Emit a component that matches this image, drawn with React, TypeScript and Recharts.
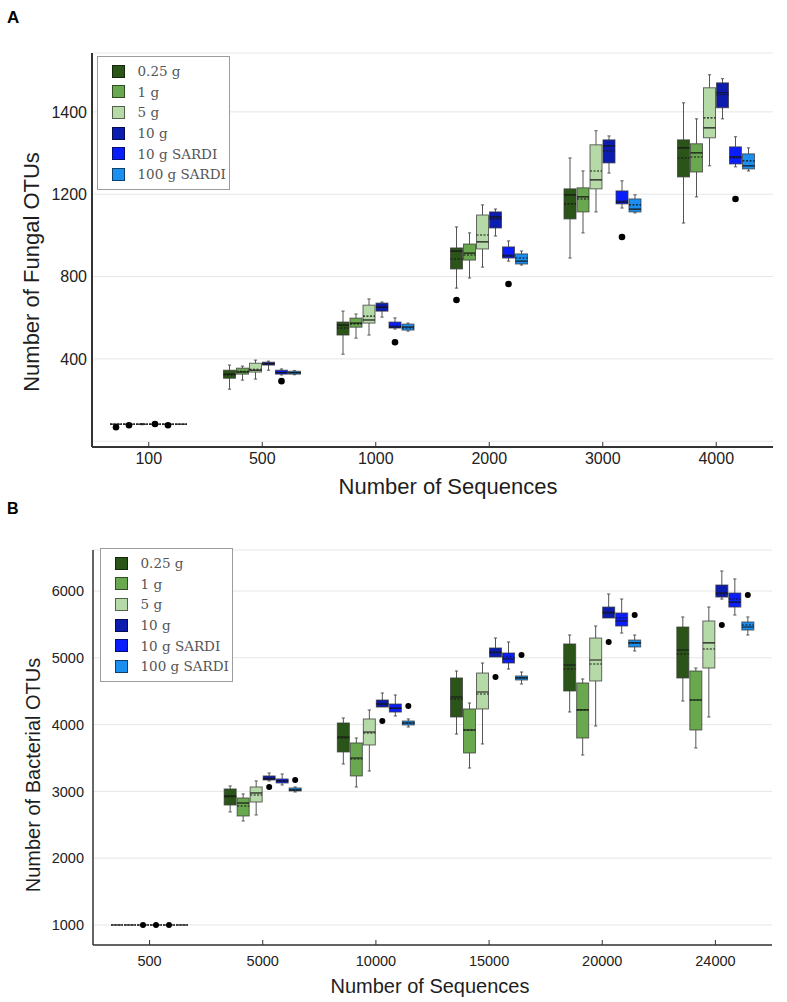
import { Bar, CartesianGrid, ComposedChart, Legend, XAxis, YAxis } from "recharts";

// [whisker low, Q1, median, mean, Q3, whisker high]
type Stat = [number, number, number, number, number, number];

const groups = ["0.25 g", "1 g", "5 g", "10 g", "10 g SARDI", "100 g SARDI"];
const groupColors = ["#2b5518", "#69a84e", "#b6d9a8", "#0b1cae", "#0a1efc", "#1a8ff0"];

// ---- panel A: fungal OTUs ----
const fungalCategories = ["100", "500", "1000", "2000", "3000", "4000"];
const fungalTicks = [0, 400, 800, 1200, 1600];
const fungalTickLabels = ["", "400", "800", "1200", "1400"];

const fungal025: Stat[] = [
    [83, 83, 83, 83, 83, 83],
    [253, 306, 326, 322, 345, 370],
    [423, 516, 564, 550, 579, 632],
    [744, 837, 924, 885, 939, 1041],
    [890, 1080, 1197, 1153, 1226, 1376],
    [1060, 1284, 1425, 1376, 1464, 1644],
];
const fungal1: Stat[] = [
    [83, 83, 83, 83, 83, 83],
    [297, 326, 336, 340, 355, 365],
    [501, 554, 574, 570, 598, 618],
    [793, 880, 914, 905, 958, 1012],
    [1012, 1114, 1187, 1177, 1231, 1313],
    [1187, 1308, 1401, 1381, 1445, 1566],
];
const fungal5: Stat[] = [
    [80, 83, 83, 83, 83, 86],
    [302, 336, 345, 350, 379, 394],
    [516, 574, 589, 608, 661, 691],
    [846, 934, 968, 1002, 1099, 1148],
    [1114, 1226, 1270, 1313, 1440, 1508],
    [1338, 1474, 1522, 1571, 1717, 1780],
];
const fungal10: Stat[] = [
    [83, 83, 83, 83, 83, 83],
    [345, 370, 377, 377, 384, 389],
    [603, 632, 652, 650, 671, 676],
    [997, 1036, 1090, 1080, 1114, 1128],
    [1303, 1352, 1435, 1410, 1464, 1483],
    [1566, 1620, 1693, 1683, 1741, 1761],
];
const fungal10Sardi: Stat[] = [
    [83, 83, 83, 83, 83, 83],
    [322, 326, 333, 335, 345, 351],
    [545, 550, 555, 560, 579, 599],
    [875, 890, 900, 905, 944, 973],
    [1133, 1153, 1162, 1167, 1216, 1265],
    [1333, 1347, 1381, 1376, 1430, 1479],
];
const fungal100Sardi: Stat[] = [
    [83, 83, 83, 83, 83, 83],
    [323, 326, 333, 333, 340, 343],
    [535, 540, 555, 550, 569, 574],
    [856, 861, 875, 890, 910, 924],
    [1109, 1114, 1128, 1148, 1177, 1197],
    [1313, 1323, 1338, 1362, 1396, 1425],
];

const fungalOut025 = [68, null, null, 686, null, null];
const fungalOut1 = [78, null, null, null, null, null];
const fungalOut5 = [null, null, null, null, null, null];
const fungalOut10 = [84, null, null, null, null, null];
const fungalOut10Sardi = [78, 292, 481, 764, 992, 1177];
const fungalOut100Sardi = [null, null, null, null, null, null];

// ---- panel B: bacterial OTUs ----
const bacterialCategories = ["500", "5000", "10000", "15000", "20000", "24000"];
const bacterialTicks = [1000, 2000, 3000, 4000, 5000, 6000];
const bacterialTickLabels = ["1000", "2000", "3000", "4000", "5000", "6000"];

const bact025: Stat[] = [
    [1000, 1000, 1000, 1000, 1000, 1000],
    [2692, 2796, 2931, 2916, 3036, 3081],
    [3410, 3590, 3814, 3799, 4024, 4099],
    [3859, 4114, 4413, 4383, 4698, 4802],
    [4189, 4503, 4892, 4832, 5207, 5341],
    [4353, 4698, 5117, 5057, 5461, 5611],
];
const bact1: Stat[] = [
    [1000, 1000, 1000, 1000, 1000, 1000],
    [2557, 2632, 2826, 2781, 2901, 2961],
    [3066, 3231, 3500, 3485, 3725, 3799],
    [3350, 3575, 3919, 3919, 4234, 4323],
    [3545, 3799, 4219, 4219, 4623, 4683],
    [3650, 3919, 4368, 4368, 4802, 4847],
];
const bact5: Stat[] = [
    [1000, 1000, 1000, 1000, 1000, 1000],
    [2647, 2841, 2976, 2946, 3066, 3156],
    [3305, 3695, 3889, 3874, 4084, 4219],
    [3710, 4234, 4488, 4458, 4772, 4922],
    [3979, 4653, 4967, 4907, 5296, 5476],
    [4114, 4847, 5222, 5132, 5551, 5760],
];
const bact10: Stat[] = [
    [1000, 1000, 1000, 1000, 1000, 1000],
    [3156, 3171, 3186, 3196, 3231, 3275],
    [4263, 4263, 4308, 4308, 4368, 4473],
    [5012, 5012, 5087, 5072, 5147, 5296],
    [5596, 5596, 5671, 5686, 5760, 5955],
    [5880, 5910, 5970, 5955, 6090, 6299],
];
const bact10Sardi: Stat[] = [
    [1000, 1000, 1000, 1000, 1000, 1000],
    [3096, 3126, 3156, 3156, 3186, 3260],
    [4129, 4188, 4248, 4240, 4308, 4443],
    [4832, 4922, 4982, 5012, 5072, 5237],
    [5371, 5476, 5551, 5596, 5671, 5880],
    [5641, 5760, 5835, 5880, 5970, 6180],
];
const bact100Sardi: Stat[] = [
    [1000, 1000, 1000, 1000, 1000, 1000],
    [2991, 3006, 3021, 3021, 3051, 3066],
    [3964, 3994, 4024, 4024, 4054, 4084],
    [4608, 4668, 4698, 4698, 4728, 4787],
    [5102, 5162, 5222, 5222, 5266, 5341],
    [5341, 5416, 5461, 5491, 5536, 5611],
];

const bactOut025 = [null, null, null, null, null, null];
const bactOut1 = [null, null, null, null, null, null];
const bactOut5 = [1000, null, null, null, null, null];
const bactOut10 = [1000, 3066, 4054, 4713, 5237, 5491];
const bactOut10Sardi = [1000, null, null, null, null, null];
const bactOut100Sardi = [null, 3171, 4278, 5042, 5641, 5940];

const FONT = "'Liberation Sans', Arial, sans-serif";

type Row = Record<string, any>;

function buildRows(categories: string[], series: Stat[][], outliers: (number | null)[][]): Row[] {
    return categories.map((label, c) => {
        const row: Row = { label };
        series.forEach((s, i) => {
            const st = s[c];
            const out = outliers[i][c];
            const lo = out == null ? st[0] : Math.min(st[0], out);
            const hi = out == null ? st[5] : Math.max(st[5], out);
            row[`r${i}`] = [lo, hi];
            row[`st${i}`] = st;
            row[`o${i}`] = out;
        });
        return row;
    });
}

const fungalRows = buildRows(
    fungalCategories,
    [fungal025, fungal1, fungal5, fungal10, fungal10Sardi, fungal100Sardi],
    [fungalOut025, fungalOut1, fungalOut5, fungalOut10, fungalOut10Sardi, fungalOut100Sardi]
);
const bacterialRows = buildRows(
    bacterialCategories,
    [bact025, bact1, bact5, bact10, bact10Sardi, bact100Sardi],
    [bactOut025, bactOut1, bactOut5, bactOut10, bactOut10Sardi, bactOut100Sardi]
);

function BoxShape(props: any) {
    const { x, y, width, height, payload, idx, color, dotR } = props;
    if (!payload) return null;
    const [lo, hi] = payload[`r${idx}`];
    const [wmin, q1, med, mean, q3, wmax] = payload[`st${idx}`] as Stat;
    const out = payload[`o${idx}`];
    const top = Math.min(y, y + height);
    const h = Math.abs(height);
    const py = (v: number) => (hi === lo ? top : top + (h * (hi - v)) / (hi - lo));
    const cx = x + width / 2;
    const cap = 1.6;
    const boxTop = py(q3);
    const boxH = py(q1) - boxTop;
    return (
        <g>
            {wmax > q3 && (
                <>
                    <line x1={cx} x2={cx} y1={py(wmax)} y2={boxTop} stroke="#555" strokeWidth={1} />
                    <line x1={cx - cap} x2={cx + cap} y1={py(wmax)} y2={py(wmax)} stroke="#555" strokeWidth={1} />
                </>
            )}
            {wmin < q1 && (
                <>
                    <line x1={cx} x2={cx} y1={py(q1)} y2={py(wmin)} stroke="#555" strokeWidth={1} />
                    <line x1={cx - cap} x2={cx + cap} y1={py(wmin)} y2={py(wmin)} stroke="#555" strokeWidth={1} />
                </>
            )}
            {boxH > 0.5 && (
                <rect
                    x={x}
                    y={boxTop}
                    width={width}
                    height={boxH}
                    fill={color}
                    stroke="#3a3a3a"
                    strokeOpacity={0.75}
                    strokeWidth={1}
                />
            )}
            <line x1={x} x2={x + width} y1={py(med)} y2={py(med)} stroke="#151515" strokeWidth={1.2} />
            <line
                x1={x}
                x2={x + width}
                y1={py(mean)}
                y2={py(mean)}
                stroke="#151515"
                strokeWidth={1.1}
                strokeDasharray="2 1.5"
            />
            {out != null && <circle cx={cx} cy={py(out)} r={dotR} fill="#000" />}
        </g>
    );
}

function YTitle({ px, py, size, text }: { px: number; py: number; size: number; text: string }) {
    return (
        <text
            x={px}
            y={py}
            transform={`rotate(-90 ${px} ${py})`}
            textAnchor="middle"
            dominantBaseline="central"
            fontSize={size}
            fill="#1e1e1e"
            fontFamily={FONT}
        >
            {text}
        </text>
    );
}

function XTitle({ px, py, size, text }: { px: number; py: number; size: number; text: string }) {
    return (
        <text x={px} y={py} textAnchor="middle" fontSize={size} fill="#1e1e1e" fontFamily={FONT}>
            {text}
        </text>
    );
}

function XTick(props: any) {
    const { x, y, payload, size, gap } = props;
    return (
        <g>
            <line x1={x} x2={x} y1={y} y2={y - 5} stroke="#333" strokeWidth={1} />
            <text x={x} y={y + gap + size * 0.72} textAnchor="middle" fontSize={size} fill="#222" fontFamily={FONT}>
                {payload.value}
            </text>
        </g>
    );
}

function BoxLegend() {
    return (
        <div
            style={{
                boxSizing: "border-box",
                width: 133,
                border: "1.5px solid #9c9c9c",
                background: "#fff",
                padding: "4px 0 4px 13.5px",
                fontFamily: "'DejaVu Serif', serif",
                fontSize: 13.5,
                color: "#555",
            }}
        >
            {groups.map((g, i) => (
                <div key={g} style={{ display: "flex", alignItems: "center", height: 20.6 }}>
                    <span
                        style={{
                            boxSizing: "border-box",
                            width: 13,
                            height: 13,
                            background: groupColors[i],
                            border: "1px solid rgba(0,0,0,0.55)",
                            marginRight: 13,
                            flex: "none",
                        }}
                    />
                    <span style={{ whiteSpace: "nowrap" }}>{g}</span>
                </div>
            ))}
        </div>
    );
}

type PanelProps = {
    data: Row[];
    height: number;
    margin: { top: number; right: number; bottom: number; left: number };
    domain: [number, number];
    ticks: number[];
    tickLabels: string[];
    tickSize: number;
    yTickMargin: number;
    xGap: number;
    axisWidth: number;
    legendPos: { left: number; top: number };
    yTitle: { px: number; py: number; size: number; text: string };
    xTitle: { px: number; py: number; size: number; text: string };
    dotR: number;
};

function Panel(p: PanelProps) {
    return (
        <ComposedChart
            width={787}
            height={p.height}
            data={p.data}
            margin={p.margin}
            barCategoryGap={18}
            barGap={1}
        >
            <CartesianGrid vertical={false} stroke="#e6e6e6" strokeWidth={1} />
            <XAxis
                dataKey="label"
                height={40}
                axisLine={{ stroke: "#333", strokeWidth: p.axisWidth }}
                tickLine={false}
                tickSize={0}
                tickMargin={0}
                interval={0}
                tick={<XTick size={p.tickSize} gap={p.xGap} />}
                label={<XTitle {...p.xTitle} />}
            />
            <YAxis
                type="number"
                width={60}
                domain={p.domain}
                allowDataOverflow
                ticks={p.ticks}
                tickFormatter={(v: number) => p.tickLabels[p.ticks.indexOf(v)] ?? ""}
                axisLine={{ stroke: "#333", strokeWidth: p.axisWidth }}
                tickLine={false}
                tickSize={0}
                tickMargin={p.yTickMargin}
                tick={{ fill: "#222", fontSize: p.tickSize, fontFamily: FONT }}
                label={<YTitle {...p.yTitle} />}
            />
            <Legend
                layout="vertical"
                align="center"
                verticalAlign="middle"
                wrapperStyle={{ left: p.legendPos.left, top: p.legendPos.top, width: 133, height: "auto" }}
                content={() => <BoxLegend />}
            />
            {groups.map((g, i) => (
                <Bar
                    key={g}
                    name={g}
                    dataKey={`r${i}`}
                    fill={groupColors[i]}
                    isAnimationActive={false}
                    shape={(sp: any) => <BoxShape {...sp} idx={i} color={groupColors[i]} dotR={p.dotR} />}
                />
            ))}
        </ComposedChart>
    );
}

export default function App() {
    return (
        <div style={{ position: "absolute", left: 0, top: 0, width: 787, height: 1002, background: "#fff" }}>
            <div style={{ position: "absolute", left: 0, top: 0 }}>
                <Panel
                    data={fungalRows}
                    height={500}
                    margin={{ top: 53, right: 14, bottom: 13, left: 32 }}
                    domain={[-28, 1886]}
                    ticks={fungalTicks}
                    tickLabels={fungalTickLabels}
                    tickSize={16}
                    yTickMargin={5}
                    xGap={5}
                    axisWidth={2}
                    legendPos={{ left: 97, top: 56 }}
                    yTitle={{ px: 31, py: 272, size: 22, text: "Number of Fungal OTUs" }}
                    xTitle={{ px: 448, py: 494, size: 22, text: "Number of Sequences" }}
                    dotR={3.3}
                />
            </div>
            <div style={{ position: "absolute", left: 0, top: 500 }}>
                <Panel
                    data={bacterialRows}
                    height={502}
                    margin={{ top: 50, right: 15, bottom: 17, left: 33 }}
                    domain={[700, 6614]}
                    ticks={bacterialTicks}
                    tickLabels={bacterialTickLabels}
                    tickSize={14.5}
                    yTickMargin={9}
                    xGap={11}
                    axisWidth={1.5}
                    legendPos={{ left: 100, top: 48 }}
                    yTitle={{ px: 33, py: 275, size: 20, text: "Number of Bacterial OTUs" }}
                    xTitle={{ px: 430, py: 493, size: 20, text: "Number of Sequences" }}
                    dotR={3}
                />
            </div>
            <div
                style={{
                    position: "absolute",
                    left: 7,
                    top: 8,
                    fontFamily: FONT,
                    fontWeight: "bold",
                    fontSize: 17,
                    lineHeight: "20px",
                }}
            >
                A
            </div>
            <div
                style={{
                    position: "absolute",
                    left: 7,
                    top: 499,
                    fontFamily: FONT,
                    fontWeight: "bold",
                    fontSize: 16,
                    lineHeight: "20px",
                }}
            >
                B
            </div>
        </div>
    );
}
